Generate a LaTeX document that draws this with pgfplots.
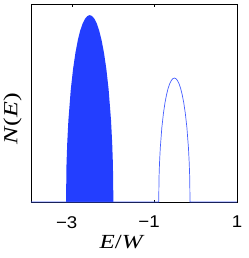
\documentclass[border=0pt]{standalone}
\usepackage{pgfplots}
\pgfplotsset{compat=1.18}
\usepackage{fontspec}
\setmainfont{Liberation Serif}
\newfontfamily\tickfont{Liberation Sans}
\definecolor{bandfill}{RGB}{35,62,255}
\definecolor{bandline}{RGB}{70,95,255}
\newcommand{\tl}[1]{\scalebox{1.1}[1]{\tickfont\fontsize{17}{17}\selectfont #1}}
\begin{document}
\begin{tikzpicture}
\begin{axis}[
  scale only axis,
  width=206pt, height=198pt,
  xmin=-4, xmax=1, ymin=0, ymax=1.0,
  xtick={-3,-1,1},
  xticklabels={\tl{\llap{−}3},\tl{\llap{−}1},\tl{1}},
  ytick=\empty,
  tick align=inside,
  major tick length=2.5pt,
  tick style={black, line width=0.5pt},
  axis line style={black, line width=0.8pt},
  x tick label style={anchor=north, inner sep=0pt, yshift=-14pt},
  xlabel={\scalebox{1.25}[1]{\fontsize{20}{20}\selectfont\textit{E}/\textit{W}}},
  ylabel={\scalebox{1.3}[1]{\fontsize{20}{20}\selectfont\textit{N}(\textit{E})}},
  xlabel style={at={(axis description cs:0.442,0)}, anchor=north, inner sep=0pt, yshift=-33pt},
  ylabel style={at={(axis description cs:-0.045,0.42)}, anchor=south, inner sep=0pt},
  clip=false,
]
\addplot[draw=none, fill=bandfill] coordinates {
(-3.15,0) (-3.1385,0.188) (-3.121,0.295) (-3.0925,0.412) (-3.035,0.566)
(-2.9775,0.674) (-2.92,0.755) (-2.8625,0.818) (-2.805,0.866) (-2.7475,0.901)
(-2.69,0.925) (-2.6325,0.939) (-2.575,0.944) (-2.5175,0.939) (-2.46,0.925)
(-2.4025,0.901) (-2.345,0.866) (-2.2875,0.818) (-2.23,0.755) (-2.1725,0.674)
(-2.115,0.566) (-2.0575,0.412) (-2.029,0.295) (-2.0115,0.188) (-2.0,0)
} -- cycle;
\addplot[bandline, line width=0.7pt] coordinates {
(-4,0) (-0.90,0) (-0.8924,0.125) (-0.881,0.195) (-0.862,0.273) (-0.824,0.376)
(-0.786,0.447) (-0.748,0.501) (-0.71,0.542) (-0.672,0.574) (-0.634,0.597)
(-0.596,0.613) (-0.558,0.623) (-0.52,0.626) (-0.482,0.623) (-0.444,0.613)
(-0.406,0.597) (-0.368,0.574) (-0.33,0.542) (-0.292,0.501) (-0.254,0.447)
(-0.216,0.376) (-0.178,0.273) (-0.159,0.195) (-0.1476,0.125) (-0.14,0) (1,0)
};
\end{axis}
\pgfresetboundingbox
\path (current axis.south west) ++(-31pt,-56pt) coordinate (bbl);
\path (current axis.north east) ++(12pt,4pt) coordinate (btr);
\useasboundingbox (bbl) rectangle (btr);
\end{tikzpicture}
\end{document}
